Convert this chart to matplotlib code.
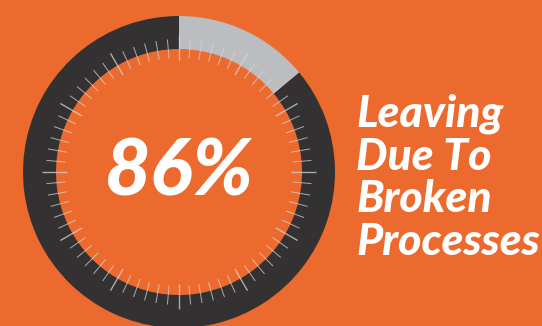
import numpy as np
import matplotlib
matplotlib.use("Agg")
import matplotlib.pyplot as plt
from matplotlib.patches import Wedge
from matplotlib.collections import LineCollection

# Share of people leaving, and the remainder
segments = ["Leaving", "Staying"]
shares = [86, 14]
headline = "86%"
caption_lines = ["Leaving", "Due To", "Broken", "Processes"]

BG = "#ED6A2F"
DARK = "#333132"
LIGHT = "#BBBDC0"
TICK = "#D6D6D6"

W, H, DPI = 542, 326, 100
fig = plt.figure(figsize=(W / DPI, H / DPI), dpi=DPI, facecolor=BG)
ax = fig.add_axes([0, 0, 1, 1])
ax.set_xlim(0, W)
ax.set_ylim(0, H)
ax.set_aspect("equal")
ax.axis("off")
ax.set_facecolor(BG)

cx, cy = 179, H - 172
r_out, r_in = 156, 123

# Ring: the "Leaving" share runs clockwise from the top edge of the light arc
total = sum(shares)
rest_deg = shares[1] / total * 360.0
start = 90.0 - rest_deg
ax.add_patch(Wedge((cx, cy), r_out, start, 90.0, width=r_out - r_in,
                   facecolor=LIGHT, edgecolor="none"))
ax.add_patch(Wedge((cx, cy), r_out, 90.0, start + 360.0, width=r_out - r_in,
                   facecolor=DARK, edgecolor="none"))

# Dial ticks straddling the inner edge of the ring
segs, widths = [], []
for i in range(72):
    a = np.deg2rad(90 - i * 5)
    major = (i % 6 == 0)
    r0 = 112 if major else 114
    r1 = 137 if major else 133
    segs.append([(cx + r0 * np.cos(a), cy + r0 * np.sin(a)),
                 (cx + r1 * np.cos(a), cy + r1 * np.sin(a))])
    widths.append(1.0 if major else 0.7)
lc = LineCollection(segs, colors=TICK, linewidths=widths, alpha=0.75)
ax.add_collection(lc)

ax.text(cx, cy - 2, headline, color="white", fontsize=57, fontfamily="Lato",
        fontweight="black", fontstyle="italic", ha="center", va="center")

baselines = [127, 170, 212, 255]
for line, yb in zip(caption_lines, baselines):
    ax.text(356, H - yb, line, color="white", fontsize=32, fontfamily="Lato",
            fontweight="black", fontstyle="italic", ha="left", va="baseline")

fig.savefig("out.png", dpi=DPI, facecolor=BG)
